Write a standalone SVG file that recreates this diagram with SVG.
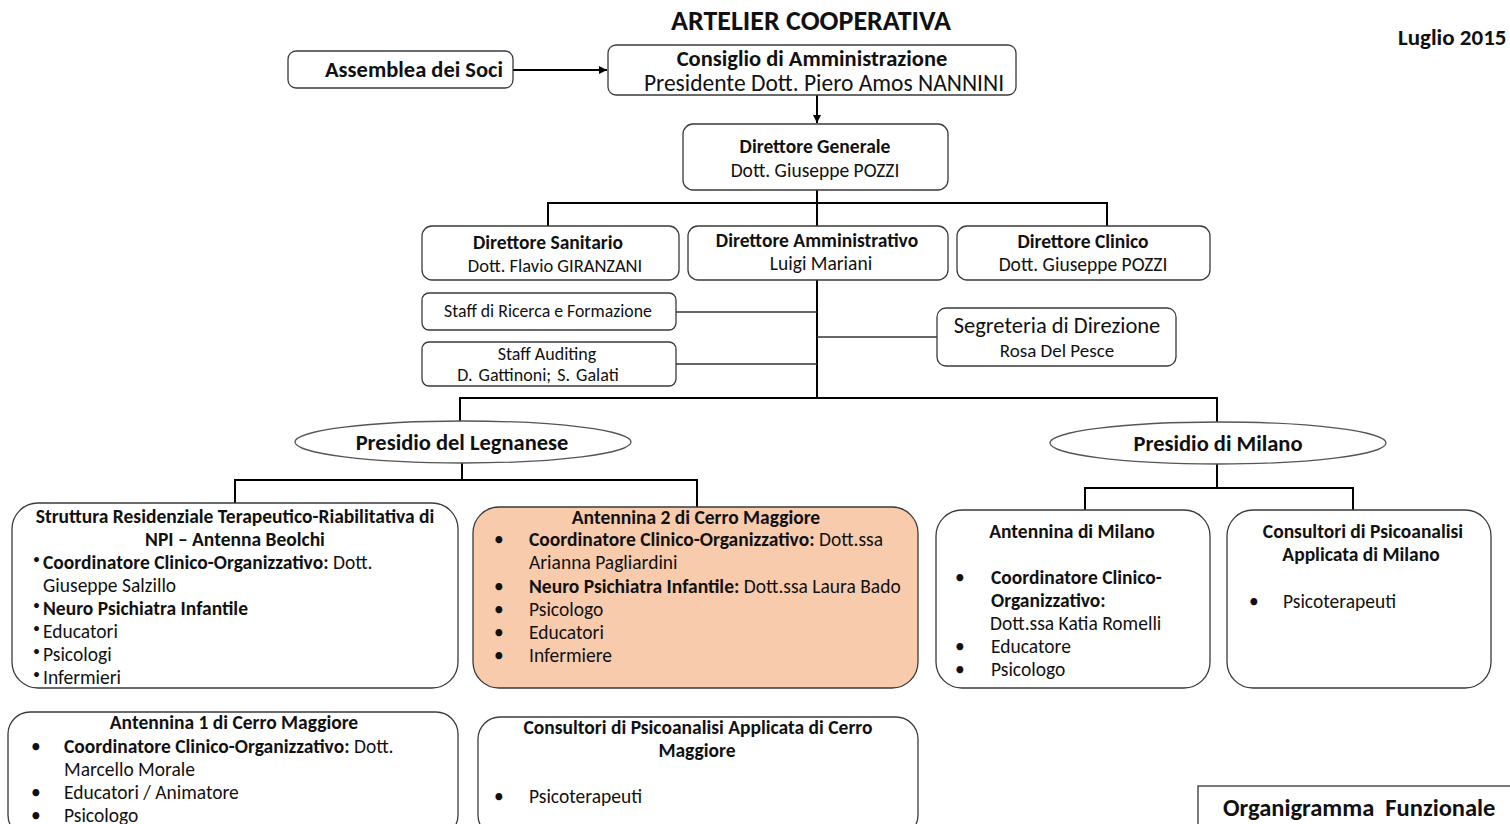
<svg xmlns="http://www.w3.org/2000/svg" width="1510" height="824" viewBox="0 0 1510 824">
<style>
text{font-family:Carlito,Lato,"Liberation Sans",sans-serif;fill:#111;dominant-baseline:central}
.b{font-weight:bold}
.c{text-anchor:middle}
.box{fill:#fff;stroke:#3a3a3a;stroke-width:1.3}
.org{fill:#f8cbad;stroke:#3a3a3a;stroke-width:1.3}
.conn{stroke:#000;stroke-width:2;fill:none}
.thin{stroke:#333;stroke-width:1.3;fill:none}
.t{font-size:19.5px}
.sb{font-size:14px}
</style>
<defs>
<marker id="ar" viewBox="0 0 10 10" refX="10" refY="5" markerWidth="8" markerHeight="8" orient="auto" markerUnits="userSpaceOnUse">
<path d="M0,0 L10,5 L0,10 z" fill="#000"/>
</marker>
</defs>
<rect width="1510" height="824" fill="#fff"/>

<text class="b c" x="811" y="20" style="font-size:28px">ARTELIER COOPERATIVA</text>
<text class="b" x="1398" y="37" style="font-size:23px">Luglio 2015</text>

<g id="connectors">
<line class="conn" x1="513" y1="70" x2="607" y2="70" marker-end="url(#ar)"/>
<line class="conn" x1="817" y1="95" x2="817" y2="123" marker-end="url(#ar)"/>
<path class="conn" d="M817,190 V226 M548,226 V203 H1107 V226"/>
<path class="conn" d="M817,280 V398"/>
<path class="thin" d="M676,312 H817 M676,364 H817 M817,337 H937"/>
<path class="conn" d="M460,421 V398 H1217 V423"/>
<path class="conn" d="M462,463 V480 M235,503 V480 H697 V507"/>
<path class="conn" d="M1217,464 V488 M1085,510 V488 H1353 V510"/>
</g>

<g id="assemblea">
<rect class="box" x="288" y="51" width="225" height="37" rx="8"/>
<text class="b c" x="414" y="69" style="font-size:22.5px">Assemblea dei Soci</text>
</g>

<g id="consiglio">
<rect class="box" x="608" y="45" width="408" height="50" rx="8"/>
<text class="b c" x="812" y="58" style="font-size:22.5px">Consiglio di Amministrazione</text>
<text class="c" x="824" y="83" style="font-size:23.5px">Presidente Dott. Piero Amos NANNINI</text>
</g>

<g id="dg">
<rect class="box" x="683" y="124" width="265" height="66" rx="10"/>
<text class="b c t" x="815" y="146">Direttore Generale</text>
<text class="c t" x="815" y="170">Dott. Giuseppe POZZI</text>
</g>

<g id="ds">
<rect class="box" x="422" y="226" width="257" height="54" rx="10"/>
<text class="b c t" x="548" y="242">Direttore Sanitario</text>
<text class="c" x="555" y="265" style="font-size:18.5px">Dott. Flavio GIRANZANI</text>
</g>

<g id="da">
<rect class="box" x="688" y="226" width="260" height="54" rx="10"/>
<text class="b c t" x="817" y="240">Direttore Amministrativo</text>
<text class="c t" x="821" y="263">Luigi Mariani</text>
</g>

<g id="dc">
<rect class="box" x="957" y="226" width="253" height="54" rx="10"/>
<text class="b c t" x="1083" y="241">Direttore Clinico</text>
<text class="c t" x="1083" y="264">Dott. Giuseppe POZZI</text>
</g>

<g id="staff-ricerca">
<rect class="box" x="422" y="293" width="254" height="37" rx="7"/>
<text class="c" x="548" y="311" style="font-size:17.8px">Staff di Ricerca e Formazione</text>
</g>

<g id="staff-auditing">
<rect class="box" x="422" y="342" width="254" height="44" rx="7"/>
<text class="c" x="547" y="354" style="font-size:18px">Staff Auditing</text>
<text class="c" x="538" y="375" style="font-size:18px;word-spacing:2px">D. Gattinoni; S. Galati</text>
</g>

<g id="segreteria">
<rect class="box" x="937" y="308" width="239" height="58" rx="9"/>
<text class="c" x="1057" y="325" style="font-size:22.5px">Segreteria di Direzione</text>
<text class="c" x="1057" y="350" style="font-size:19px">Rosa Del Pesce</text>
</g>

<g id="presidio-legnanese">
<ellipse cx="463" cy="442" rx="168" ry="21" fill="#fff" stroke="#555" stroke-width="1.3"/>
<text class="b c" x="462" y="442" style="font-size:22.5px">Presidio del Legnanese</text>
</g>

<g id="presidio-milano">
<ellipse cx="1218" cy="443" rx="168" ry="21" fill="#fff" stroke="#555" stroke-width="1.3"/>
<text class="b c" x="1218" y="443" style="font-size:22.5px">Presidio di Milano</text>
</g>

<g id="struttura">
<rect class="box" x="12" y="503" width="446" height="185" rx="26"/>
<text class="b c t" x="235" y="516">Struttura Residenziale Terapeutico-Riabilitativa di</text>
<text class="b c t" x="235" y="539">NPI – Antenna Beolchi</text>
<g class="t">
<text class="sb" x="33" y="559">•</text><text x="43" y="562"><tspan class="b">Coordinatore Clinico-Organizzativo:</tspan> Dott.</text>
<text x="43" y="585">Giuseppe Salzillo</text>
<text class="sb" x="33" y="605">•</text><text x="43" y="608" class="b">Neuro Psichiatra Infantile</text>
<text class="sb" x="33" y="628">•</text><text x="43" y="631">Educatori</text>
<text class="sb" x="33" y="651">•</text><text x="43" y="654">Psicologi</text>
<text class="sb" x="33" y="674">•</text><text x="43" y="677">Infermieri</text>
</g>
</g>

<g id="antennina2">
<rect class="org" x="473" y="507" width="445" height="181" rx="26"/>
<text class="b c t" x="696" y="517">Antennina 2 di Cerro Maggiore</text>
<g class="t">
<text x="494" y="539">•</text><text x="529" y="539"><tspan class="b">Coordinatore Clinico-Organizzativo:</tspan> Dott.ssa</text>
<text x="529" y="562">Arianna Pagliardini</text>
<text x="494" y="586">•</text><text x="529" y="586"><tspan class="b">Neuro Psichiatra Infantile:</tspan> Dott.ssa Laura Bado</text>
<text x="494" y="609">•</text><text x="529" y="609">Psicologo</text>
<text x="494" y="632">•</text><text x="529" y="632">Educatori</text>
<text x="494" y="655">•</text><text x="529" y="655">Infermiere</text>
</g>
</g>

<g id="antennina-milano">
<rect class="box" x="936" y="510" width="274" height="178" rx="26"/>
<text class="b c t" x="1072" y="531">Antennina di Milano</text>
<g class="t">
<text x="955" y="577">•</text><text x="991" y="577" class="b">Coordinatore Clinico-</text>
<text x="991" y="600" class="b">Organizzativo:</text>
<text x="990" y="623">Dott.ssa Katia Romelli</text>
<text x="955" y="646">•</text><text x="991" y="646">Educatore</text>
<text x="955" y="669">•</text><text x="991" y="669">Psicologo</text>
</g>
</g>

<g id="consultori-milano">
<rect class="box" x="1227" y="510" width="264" height="178" rx="26"/>
<text class="b c t" x="1363" y="531">Consultori di Psicoanalisi</text>
<text class="b c t" x="1361" y="554">Applicata di Milano</text>
<text class="t" x="1249" y="601">•</text>
<text class="t" x="1283" y="601">Psicoterapeuti</text>
</g>

<g id="antennina1">
<rect class="box" x="8" y="712" width="450" height="125" rx="22"/>
<text class="b c t" x="234" y="722">Antennina 1 di Cerro Maggiore</text>
<g class="t">
<text x="31" y="746">•</text><text x="64" y="746"><tspan class="b">Coordinatore Clinico-Organizzativo:</tspan> Dott.</text>
<text x="64" y="769">Marcello Morale</text>
<text x="31" y="792">•</text><text x="64" y="792">Educatori / Animatore</text>
<text x="31" y="815">•</text><text x="64" y="815">Psicologo</text>
</g>
</g>

<g id="consultori-cerro">
<rect class="box" x="478" y="717" width="440" height="120" rx="22"/>
<text class="b c t" x="698" y="727">Consultori di Psicoanalisi Applicata di Cerro</text>
<text class="b c t" x="697" y="750">Maggiore</text>
<text class="t" x="494" y="796">•</text>
<text class="t" x="529" y="796">Psicoterapeuti</text>
</g>

<g id="organigramma">
<rect x="1198" y="786" width="320" height="50" fill="#fff" stroke="#333" stroke-width="1.3"/>
<text class="b" x="1223" y="808" style="font-size:24.5px;white-space:pre" xml:space="preserve">Organigramma  Funzionale</text>
</g>
</svg>
